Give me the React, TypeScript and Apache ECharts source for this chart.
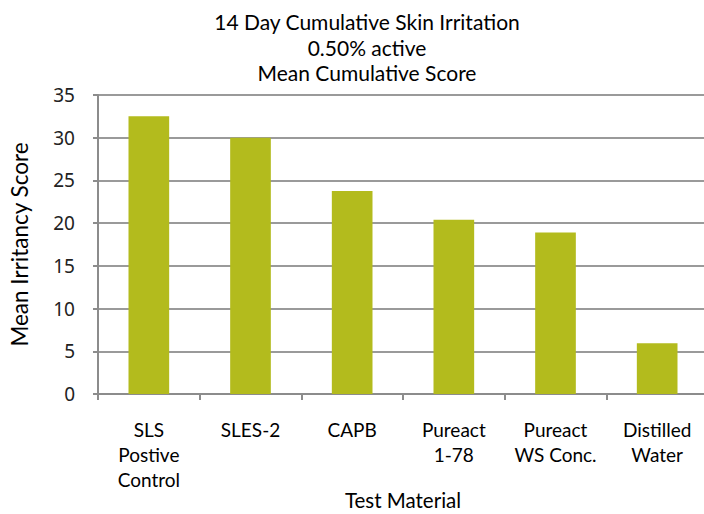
import React, { useEffect, useRef } from "react";
import * as echarts from "echarts";

const titleLines = ["14 Day Cumulative Skin Irritation", "0.50% active", "Mean Cumulative Score"];
const categories = ["SLS\nPostive\nControl", "SLES-2", "CAPB", "Pureact\n1-78", "Pureact\nWS Conc.", "Distilled\nWater"];
const scores = [32.5, 30, 23.75, 20.4, 18.9, 5.95];
const yAxisTitle = "Mean Irritancy Score";
const xAxisTitle = "Test Material";

export default function App() {
  const ref = useRef<HTMLDivElement>(null);
  useEffect(() => {
    if (!ref.current) return;
    const chart = echarts.init(ref.current, null, { renderer: "svg" });
    chart.setOption({
      animation: false,
      backgroundColor: "#ffffff",
      title: {
        text: titleLines.join("\n"),
        left: 362,
        textAlign: "center",
        top: 4,
        textStyle: {
          fontFamily: "Lato",
          fontSize: 21,
          fontWeight: "normal",
          color: "#000",
          lineHeight: 25.5,
        },
      },
      grid: { left: 98, right: -4, top: 95, bottom: 120, outerBoundsMode: "none", containLabel: false },
      xAxis: {
        type: "category",
        data: categories,
        name: xAxisTitle,
        nameLocation: "middle",
        nameGap: 95,
        nameMoveOverlap: false,
        nameTextStyle: { fontFamily: "Lato", fontSize: 20.5, color: "#000" },
        axisLine: { lineStyle: { color: "#8c8c8c", width: 2 } },
        axisTick: { show: true, length: 6, lineStyle: { color: "#8c8c8c", width: 2 } },
        axisLabel: {
          fontFamily: "Lato",
          fontSize: 19,
          color: "#000",
          lineHeight: 25,
          margin: 23,
          interval: 0,
        },
      },
      yAxis: {
        type: "value",
        min: 0,
        max: 35,
        interval: 5,
        name: yAxisTitle,
        nameLocation: "middle",
        nameRotate: 90,
        nameGap: 67,
        nameMoveOverlap: false,
        nameTextStyle: { fontFamily: "Lato", fontSize: 22.5, color: "#000" },
        axisLine: { show: true, lineStyle: { color: "#8c8c8c", width: 2 } },
        axisTick: { show: true, length: 5, lineStyle: { color: "#8c8c8c", width: 2 } },
        axisLabel: { fontFamily: "Noto Sans", fontSize: 19, color: "#222", margin: 23 },
        splitLine: { lineStyle: { color: "#9a9a9a", width: 2 } },
      },
      series: [
        {
          type: "bar",
          data: scores,
          barWidth: "40%",
          itemStyle: { color: "#b3bb1d" },
        },
      ],
    });
    return () => chart.dispose();
  }, []);
  return (
    <div
      ref={ref}
      style={{ position: "fixed", left: 0, top: 0, width: 704, height: 514 }}
    />
  );
}
